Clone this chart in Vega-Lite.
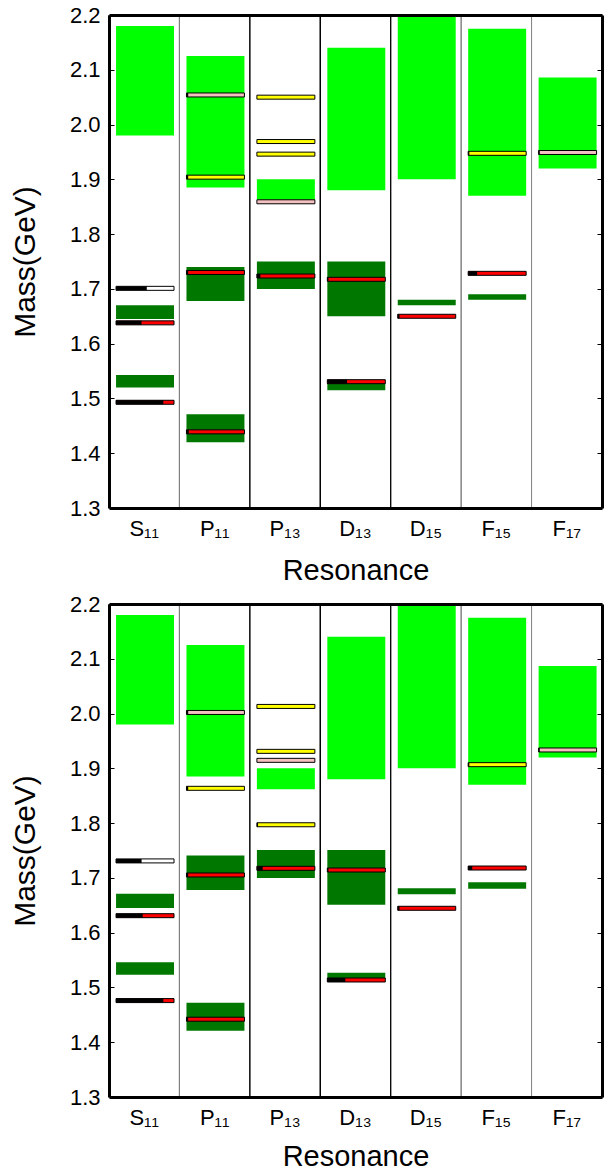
{
  "$schema": "https://vega.github.io/schema/vega-lite/v6.json",
  "background": "white",
  "padding": {"left": 10, "top": 4, "right": 2, "bottom": 0},
  "spacing": 8,
  "config": {"font": "Liberation Sans", "view": {"stroke": null}},
  "datasets": {
    "top": [
      {"res": "S₁₁", "kind": "box", "status": "uncertain", "lo": 1.98, "hi": 2.18},
      {"res": "S₁₁", "kind": "box", "status": "established", "lo": 1.645, "hi": 1.67},
      {"res": "S₁₁", "kind": "box", "status": "established", "lo": 1.52, "hi": 1.543},
      {"res": "S₁₁", "kind": "bar", "set": "D", "m": 1.701, "frac": 0.53},
      {"res": "S₁₁", "kind": "bar", "set": "A", "m": 1.638, "frac": 0.44},
      {"res": "S₁₁", "kind": "bar", "set": "A", "m": 1.493, "frac": 0.815},
      {"res": "P₁₁", "kind": "box", "status": "uncertain", "lo": 1.885, "hi": 2.125},
      {"res": "P₁₁", "kind": "box", "status": "established", "lo": 1.678, "hi": 1.74},
      {"res": "P₁₁", "kind": "box", "status": "established", "lo": 1.42, "hi": 1.471},
      {"res": "P₁₁", "kind": "bar", "set": "C", "m": 2.054, "frac": 0.03},
      {"res": "P₁₁", "kind": "bar", "set": "B", "m": 1.904, "frac": 0.03},
      {"res": "P₁₁", "kind": "bar", "set": "A", "m": 1.73, "frac": 0.03},
      {"res": "P₁₁", "kind": "bar", "set": "A", "m": 1.439, "frac": 0.04},
      {"res": "P₁₃", "kind": "box", "status": "uncertain", "lo": 1.862, "hi": 1.9},
      {"res": "P₁₃", "kind": "box", "status": "established", "lo": 1.7, "hi": 1.75},
      {"res": "P₁₃", "kind": "bar", "set": "B", "m": 2.05, "frac": 0},
      {"res": "P₁₃", "kind": "bar", "set": "B", "m": 1.969, "frac": 0},
      {"res": "P₁₃", "kind": "bar", "set": "B", "m": 1.946, "frac": 0},
      {"res": "P₁₃", "kind": "bar", "set": "C", "m": 1.859, "frac": 0},
      {"res": "P₁₃", "kind": "bar", "set": "A", "m": 1.7235, "frac": 0.06},
      {"res": "D₁₃", "kind": "box", "status": "uncertain", "lo": 1.88, "hi": 2.14},
      {"res": "D₁₃", "kind": "box", "status": "established", "lo": 1.65, "hi": 1.75},
      {"res": "D₁₃", "kind": "box", "status": "established", "lo": 1.515, "hi": 1.53},
      {"res": "D₁₃", "kind": "bar", "set": "A", "m": 1.7175, "frac": 0.02},
      {"res": "D₁₃", "kind": "bar", "set": "A", "m": 1.5306, "frac": 0.34},
      {"res": "D₁₅", "kind": "box", "status": "uncertain", "lo": 1.9, "hi": 2.2},
      {"res": "D₁₅", "kind": "box", "status": "established", "lo": 1.67, "hi": 1.68},
      {"res": "D₁₅", "kind": "bar", "set": "A", "m": 1.65, "frac": 0.03},
      {"res": "F₁₅", "kind": "box", "status": "uncertain", "lo": 1.87, "hi": 2.175},
      {"res": "F₁₅", "kind": "box", "status": "established", "lo": 1.68, "hi": 1.69},
      {"res": "F₁₅", "kind": "bar", "set": "B", "m": 1.9475, "frac": 0.02},
      {"res": "F₁₅", "kind": "bar", "set": "A", "m": 1.7284, "frac": 0.155},
      {"res": "F₁₇", "kind": "box", "status": "uncertain", "lo": 1.92, "hi": 2.086},
      {"res": "F₁₇", "kind": "bar", "set": "C", "m": 1.949, "frac": 0.02}
    ],
    "bottom": [
      {"res": "S₁₁", "kind": "box", "status": "uncertain", "lo": 1.98, "hi": 2.18},
      {"res": "S₁₁", "kind": "box", "status": "established", "lo": 1.645, "hi": 1.671},
      {"res": "S₁₁", "kind": "box", "status": "established", "lo": 1.523, "hi": 1.546},
      {"res": "S₁₁", "kind": "bar", "set": "D", "m": 1.731, "frac": 0.44},
      {"res": "S₁₁", "kind": "bar", "set": "A", "m": 1.631, "frac": 0.46},
      {"res": "S₁₁", "kind": "bar", "set": "A", "m": 1.476, "frac": 0.815},
      {"res": "P₁₁", "kind": "box", "status": "uncertain", "lo": 1.885, "hi": 2.125},
      {"res": "P₁₁", "kind": "box", "status": "established", "lo": 1.678, "hi": 1.741},
      {"res": "P₁₁", "kind": "box", "status": "established", "lo": 1.421, "hi": 1.472},
      {"res": "P₁₁", "kind": "bar", "set": "C", "m": 2.002, "frac": 0.03},
      {"res": "P₁₁", "kind": "bar", "set": "B", "m": 1.8635, "frac": 0.03},
      {"res": "P₁₁", "kind": "bar", "set": "A", "m": 1.7053, "frac": 0.03},
      {"res": "P₁₁", "kind": "bar", "set": "A", "m": 1.442, "frac": 0.03},
      {"res": "P₁₃", "kind": "box", "status": "uncertain", "lo": 1.862, "hi": 1.9},
      {"res": "P₁₃", "kind": "box", "status": "established", "lo": 1.7, "hi": 1.751},
      {"res": "P₁₃", "kind": "bar", "set": "B", "m": 2.013, "frac": 0},
      {"res": "P₁₃", "kind": "bar", "set": "B", "m": 1.931, "frac": 0},
      {"res": "P₁₃", "kind": "bar", "set": "C", "m": 1.9146, "frac": 0},
      {"res": "P₁₃", "kind": "bar", "set": "B", "m": 1.797, "frac": 0.02},
      {"res": "P₁₃", "kind": "bar", "set": "A", "m": 1.7175, "frac": 0.1},
      {"res": "D₁₃", "kind": "box", "status": "uncertain", "lo": 1.88, "hi": 2.14},
      {"res": "D₁₃", "kind": "box", "status": "established", "lo": 1.651, "hi": 1.751},
      {"res": "D₁₃", "kind": "box", "status": "established", "lo": 1.515, "hi": 1.527},
      {"res": "D₁₃", "kind": "bar", "set": "A", "m": 1.7144, "frac": 0.02},
      {"res": "D₁₃", "kind": "bar", "set": "A", "m": 1.5136, "frac": 0.31},
      {"res": "D₁₅", "kind": "box", "status": "uncertain", "lo": 1.9, "hi": 2.2},
      {"res": "D₁₅", "kind": "box", "status": "established", "lo": 1.67, "hi": 1.681},
      {"res": "D₁₅", "kind": "bar", "set": "A", "m": 1.6445, "frac": 0.03},
      {"res": "F₁₅", "kind": "box", "status": "uncertain", "lo": 1.87, "hi": 2.175},
      {"res": "F₁₅", "kind": "box", "status": "established", "lo": 1.68, "hi": 1.692},
      {"res": "F₁₅", "kind": "bar", "set": "B", "m": 1.9067, "frac": 0.02},
      {"res": "F₁₅", "kind": "bar", "set": "A", "m": 1.718, "frac": 0.07},
      {"res": "F₁₇", "kind": "box", "status": "uncertain", "lo": 1.92, "hi": 2.087},
      {"res": "F₁₇", "kind": "bar", "set": "C", "m": 1.9335, "frac": 0.02}
    ]
  },
  "vconcat": [
    {
      "data": {"name": "top"},
      "width": 493, "height": 493,
      "layer": [
        {
          "transform": [{"filter": "datum.kind === 'box'"}],
          "mark": {"type": "rule", "strokeWidth": 1},
          "encoding": {
            "x": {"field": "res", "type": "nominal", "bandPosition": 0, "sort": ["S₁₁", "P₁₁", "P₁₃", "D₁₃", "D₁₅", "F₁₅", "F₁₇"], "scale": {"paddingInner": 0, "paddingOuter": 0}, "axis": {"orient": "bottom", "labelAngle": 0, "labelFont": "Liberation Sans", "labelFontSize": 22, "labelColor": "black", "labelPadding": 10, "ticks": false, "domainWidth": 3, "domainColor": "black", "title": "Resonance", "titleFont": "Liberation Sans", "titleFontSize": 29, "titleFontWeight": "normal", "titleColor": "black", "titlePadding": 17, "zindex": 1}},
            "stroke": {"field": "res", "type": "nominal", "scale": {"domain": ["S₁₁", "P₁₁", "P₁₃", "D₁₃", "D₁₅", "F₁₅", "F₁₇"], "range": ["#808080", "#808080", "#000000", "#000000", "#000000", "#808080", "#808080"]}, "legend": null}
          }
        },
        {
          "transform": [{"filter": "datum.kind === 'box'"}],
          "mark": {"type": "rect"},
          "encoding": {
            "x": {"field": "res", "type": "nominal", "bandPosition": 0.1, "sort": ["S₁₁", "P₁₁", "P₁₃", "D₁₃", "D₁₅", "F₁₅", "F₁₇"], "axis": {"orient": "top", "labels": false, "ticks": false, "domainWidth": 3, "domainColor": "black", "title": null, "zindex": 1}},
            "x2": {"field": "res", "bandPosition": 0.923},
            "y": {"field": "lo", "type": "quantitative", "title": "Mass(GeV)", "scale": {"domain": [1.3, 2.2], "nice": false, "zero": false}, "axis": {"orient": "left", "values": [1.3, 1.4, 1.5, 1.6, 1.7, 1.8, 1.9, 2.0, 2.1, 2.2], "format": ".1f", "grid": false, "labelFont": "Liberation Sans", "labelFontSize": 22, "labelColor": "black", "tickSize": -5, "tickColor": "black", "domainColor": "black", "domainWidth": 3, "labelPadding": 14, "titleFont": "Liberation Sans", "titleFontSize": 30, "titleFontWeight": "normal", "titleColor": "black", "titlePadding": 29, "zindex": 1}},
            "y2": {"field": "hi"},
            "color": {"field": "status", "type": "nominal", "scale": {"domain": ["uncertain", "established"], "range": ["#00ff00", "#007800"]}, "legend": null}
          }
        },
        {
          "transform": [{"filter": "datum.kind === 'bar'"}],
          "mark": {"type": "rect", "stroke": "black", "strokeWidth": 1, "yOffset": -2, "y2Offset": 2},
          "encoding": {
            "x": {"field": "res", "type": "nominal", "bandPosition": 0.1, "sort": ["S₁₁", "P₁₁", "P₁₃", "D₁₃", "D₁₅", "F₁₅", "F₁₇"], "axis": null},
            "x2": {"field": "res", "bandPosition": 0.923},
            "y": {"field": "m", "type": "quantitative", "scale": {"domain": [1.3, 2.2], "nice": false, "zero": false}, "axis": {"orient": "right", "values": [1.3, 1.4, 1.5, 1.6, 1.7, 1.8, 1.9, 2.0, 2.1, 2.2], "labels": false, "grid": false, "tickSize": -5, "tickColor": "black", "domainColor": "black", "domainWidth": 3, "title": null, "zindex": 1}},
            "y2": {"field": "m"},
            "fill": {"field": "set", "type": "nominal", "scale": {"domain": ["A", "B", "C", "D"], "range": ["#ff0000", "#ffff00", "#f5c0c0", "#ffffff"]}, "legend": null}
          }
        },
        {
          "transform": [{"filter": "datum.kind === 'bar'"}],
          "mark": {"type": "rect", "fill": "black", "yOffset": -2, "y2Offset": 2},
          "encoding": {
            "x": {"field": "res", "type": "nominal", "sort": ["S₁₁", "P₁₁", "P₁₃", "D₁₃", "D₁₅", "F₁₅", "F₁₇"], "axis": null},
            "xOffset": {"field": "frac", "type": "quantitative", "scale": {"domain": [-0.1214, 1.0927], "nice": false, "zero": false}},
            "x2": {"field": "res", "bandPosition": 0.1},
            "y": {"field": "m", "type": "quantitative", "axis": null},
            "y2": {"field": "m"}
          }
        }
      ],
      "resolve": {"axis": {"x": "independent", "y": "independent"}}
    },
    {
      "data": {"name": "bottom"},
      "width": 493, "height": 493,
      "layer": [
        {
          "transform": [{"filter": "datum.kind === 'box'"}],
          "mark": {"type": "rule", "strokeWidth": 1},
          "encoding": {
            "x": {"field": "res", "type": "nominal", "bandPosition": 0, "sort": ["S₁₁", "P₁₁", "P₁₃", "D₁₃", "D₁₅", "F₁₅", "F₁₇"], "scale": {"paddingInner": 0, "paddingOuter": 0}, "axis": {"orient": "bottom", "labelAngle": 0, "labelFont": "Liberation Sans", "labelFontSize": 22, "labelColor": "black", "labelPadding": 10, "ticks": false, "domainWidth": 3, "domainColor": "black", "title": "Resonance", "titleFont": "Liberation Sans", "titleFontSize": 29, "titleFontWeight": "normal", "titleColor": "black", "titlePadding": 14, "zindex": 1}},
            "stroke": {"field": "res", "type": "nominal", "scale": {"domain": ["S₁₁", "P₁₁", "P₁₃", "D₁₃", "D₁₅", "F₁₅", "F₁₇"], "range": ["#808080", "#808080", "#000000", "#000000", "#000000", "#808080", "#808080"]}, "legend": null}
          }
        },
        {
          "transform": [{"filter": "datum.kind === 'box'"}],
          "mark": {"type": "rect"},
          "encoding": {
            "x": {"field": "res", "type": "nominal", "bandPosition": 0.1, "sort": ["S₁₁", "P₁₁", "P₁₃", "D₁₃", "D₁₅", "F₁₅", "F₁₇"], "axis": {"orient": "top", "labels": false, "ticks": false, "domainWidth": 3, "domainColor": "black", "title": null, "zindex": 1}},
            "x2": {"field": "res", "bandPosition": 0.923},
            "y": {"field": "lo", "type": "quantitative", "title": "Mass(GeV)", "scale": {"domain": [1.3, 2.2], "nice": false, "zero": false}, "axis": {"orient": "left", "values": [1.3, 1.4, 1.5, 1.6, 1.7, 1.8, 1.9, 2.0, 2.1, 2.2], "format": ".1f", "grid": false, "labelFont": "Liberation Sans", "labelFontSize": 22, "labelColor": "black", "tickSize": -5, "tickColor": "black", "domainColor": "black", "domainWidth": 3, "labelPadding": 14, "titleFont": "Liberation Sans", "titleFontSize": 30, "titleFontWeight": "normal", "titleColor": "black", "titlePadding": 29, "zindex": 1}},
            "y2": {"field": "hi"},
            "color": {"field": "status", "type": "nominal", "scale": {"domain": ["uncertain", "established"], "range": ["#00ff00", "#007800"]}, "legend": null}
          }
        },
        {
          "transform": [{"filter": "datum.kind === 'bar'"}],
          "mark": {"type": "rect", "stroke": "black", "strokeWidth": 1, "yOffset": -2, "y2Offset": 2},
          "encoding": {
            "x": {"field": "res", "type": "nominal", "bandPosition": 0.1, "sort": ["S₁₁", "P₁₁", "P₁₃", "D₁₃", "D₁₅", "F₁₅", "F₁₇"], "axis": null},
            "x2": {"field": "res", "bandPosition": 0.923},
            "y": {"field": "m", "type": "quantitative", "scale": {"domain": [1.3, 2.2], "nice": false, "zero": false}, "axis": {"orient": "right", "values": [1.3, 1.4, 1.5, 1.6, 1.7, 1.8, 1.9, 2.0, 2.1, 2.2], "labels": false, "grid": false, "tickSize": -5, "tickColor": "black", "domainColor": "black", "domainWidth": 3, "title": null, "zindex": 1}},
            "y2": {"field": "m"},
            "fill": {"field": "set", "type": "nominal", "scale": {"domain": ["A", "B", "C", "D"], "range": ["#ff0000", "#ffff00", "#f5c0c0", "#ffffff"]}, "legend": null}
          }
        },
        {
          "transform": [{"filter": "datum.kind === 'bar'"}],
          "mark": {"type": "rect", "fill": "black", "yOffset": -2, "y2Offset": 2},
          "encoding": {
            "x": {"field": "res", "type": "nominal", "sort": ["S₁₁", "P₁₁", "P₁₃", "D₁₃", "D₁₅", "F₁₅", "F₁₇"], "axis": null},
            "xOffset": {"field": "frac", "type": "quantitative", "scale": {"domain": [-0.1214, 1.0927], "nice": false, "zero": false}},
            "x2": {"field": "res", "bandPosition": 0.1},
            "y": {"field": "m", "type": "quantitative", "axis": null},
            "y2": {"field": "m"}
          }
        }
      ],
      "resolve": {"axis": {"x": "independent", "y": "independent"}}
    }
  ]
}
